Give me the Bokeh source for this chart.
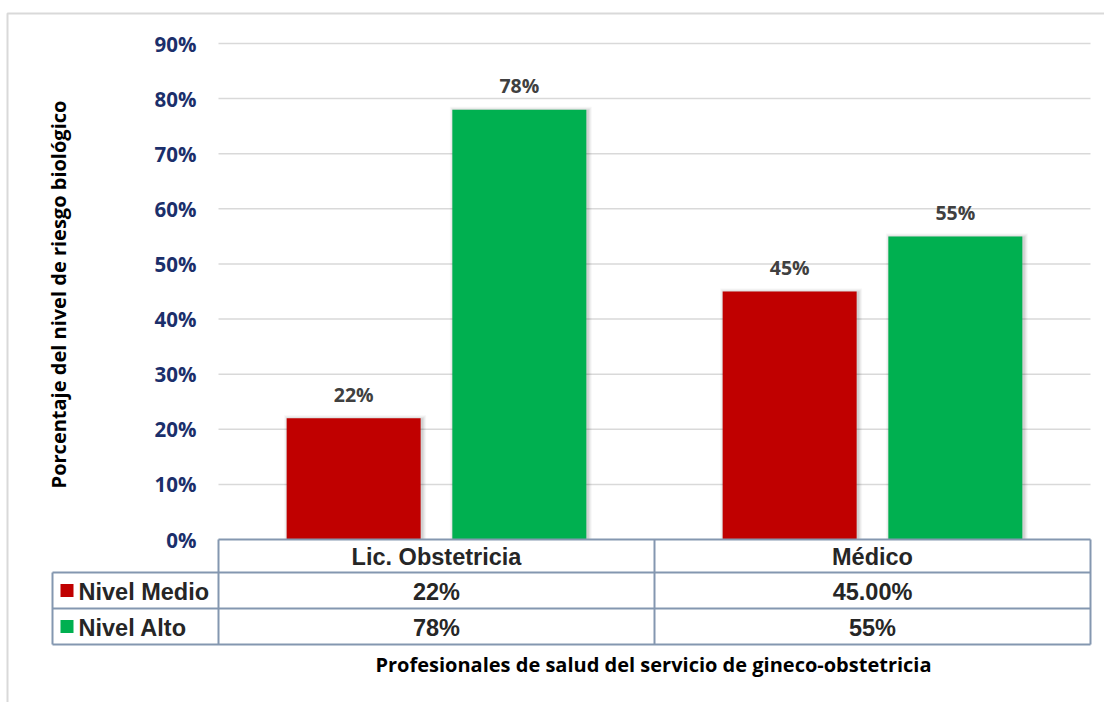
import math
from bokeh.plotting import figure
from bokeh.models import Range1d
from bokeh.core.properties import value
from bokeh.embed import file_html
from bokeh.resources import INLINE

# ---------------- data ----------------
categories = ["Lic. Obstetricia", "Médico"]
series_names = ["Nivel Medio", "Nivel Alto"]
nivel_medio = [22, 45]
nivel_alto = [78, 55]
table_medio = ["22%", "45.00%"]
table_alto = ["78%", "55%"]
y_ticks = [0, 10, 20, 30, 40, 50, 60, 70, 80, 90]
y_tick_labels = ["0%", "10%", "20%", "30%", "40%", "50%", "60%", "70%", "80%", "90%"]
y_title = "Porcentaje del nivel de riesgo biológico"
x_title = "Profesionales de salud del servicio de gineco-obstetricia"

# ---------------- layout ----------------
W, H = 1104, 702
PLOT_L, PLOT_R = 218, 1090
Y0_PX, Y90_PX = 539, 43
PX_PER_UNIT_X = (PLOT_R - PLOT_L) / len(categories)
PX_PER_PCT = (Y0_PX - Y90_PX) / 90.0

def dx(px):
    return (px - PLOT_L) / PX_PER_UNIT_X

def dy(py):
    return (Y0_PX - py) / PX_PER_PCT

RED = "#C00000"
GREEN = "#00B050"
GRID = "#D9D9D9"
TABLE = "#8497B0"
NAVY = "#1B2F6B"
CAL = value("Open Sans")
ARIAL = value("Liberation Sans")

p = figure(width=W, height=H, output_backend="svg", toolbar_location=None,
           x_range=Range1d(dx(0), dx(W)), y_range=Range1d(dy(H), dy(0)),
           min_border=0)
p.axis.visible = False
p.grid.visible = False
p.outline_line_color = None
p.background_fill_color = "white"
p.border_fill_color = "white"

# chart border (frame of the Excel chart)
p.line(x=[dx(W + 5), dx(7), dx(7)], y=[dy(13), dy(13), dy(H + 5)],
       line_color=GRID, line_width=2)

# gridlines
grid_y = [t for t in y_ticks if t > 0]
p.segment(x0=[0] * len(grid_y), x1=[len(categories)] * len(grid_y),
          y0=grid_y, y1=grid_y, line_color=GRID, line_width=1.5)

# y tick labels
p.text(x=[dx(196)] * len(y_ticks), y=y_ticks, text=y_tick_labels,
       text_align="right", text_baseline="middle", text_color=NAVY,
       text_font=CAL, text_font_style="bold", text_font_size="20.5px")

# bars
bar_w = 134 / PX_PER_UNIT_X
offset = 0.19
centers = [i + 0.5 for i in range(len(categories))]
x_medio = [c - offset for c in centers]
x_alto = [c + offset for c in centers]

# soft shadow
for k, a in [(4, 0.03), (3, 0.04), (2, 0.05), (1, 0.06)]:
    for xs, vals in [(x_medio, nivel_medio), (x_alto, nivel_alto)]:
        p.vbar(x=[x + 1.5 / PX_PER_UNIT_X for x in xs],
               width=bar_w + 2 * k / PX_PER_UNIT_X,
               top=[v + (k - 1) / PX_PER_PCT for v in vals], bottom=0,
               fill_color="black", fill_alpha=a, line_color=None)

p.vbar(x=x_medio, top=nivel_medio, bottom=0, width=bar_w,
       fill_color=RED, line_color=None)
p.vbar(x=x_alto, top=nivel_alto, bottom=0, width=bar_w,
       fill_color=GREEN, line_color=None)

# data labels
lab_x = x_medio + x_alto
lab_y = nivel_medio + nivel_alto
p.text(x=lab_x, y=lab_y, text=[f"{v:.0f}%" for v in lab_y],
       text_align="center", text_baseline="middle", y_offset=-24,
       text_color="#404040", text_font=CAL, text_font_style="bold",
       text_font_size="19.5px")

# data table
row_top = [Y0_PX, 572, 608, 644]
tbl_lines_x0, tbl_lines_x1, tbl_lines_y0, tbl_lines_y1 = [], [], [], []
tbl_lines_x0 += [dx(PLOT_L), dx(52), dx(52), dx(52)]
tbl_lines_x1 += [dx(PLOT_R)] * 4
tbl_lines_y0 += [dy(r) for r in row_top]
tbl_lines_y1 += [dy(r) for r in row_top]
for xp, ytop in [(52, 572), (PLOT_L, Y0_PX), (654, Y0_PX), (PLOT_R, Y0_PX)]:
    tbl_lines_x0.append(dx(xp)); tbl_lines_x1.append(dx(xp))
    tbl_lines_y0.append(dy(ytop)); tbl_lines_y1.append(dy(644))
p.segment(x0=tbl_lines_x0, x1=tbl_lines_x1, y0=tbl_lines_y0, y1=tbl_lines_y1,
          line_color=TABLE, line_width=2)

row_mid = [(row_top[i] + row_top[i + 1]) / 2 for i in range(3)]
TFS = "23.5px"
p.text(x=centers, y=[dy(row_mid[0] + 1)] * 2, text=categories,
       text_align="center", text_baseline="middle", text_color="#262626",
       text_font=ARIAL, text_font_style="bold", text_font_size=TFS)
p.text(x=centers, y=[dy(row_mid[1] + 1)] * 2, text=table_medio,
       text_align="center", text_baseline="middle", text_color="#262626",
       text_font=ARIAL, text_font_style="bold", text_font_size=TFS)
p.text(x=centers, y=[dy(row_mid[2] + 1)] * 2, text=table_alto,
       text_align="center", text_baseline="middle", text_color="#262626",
       text_font=ARIAL, text_font_style="bold", text_font_size=TFS)

# legend keys in table
p.rect(x=[dx(66.5)] * 2, y=[dy(row_mid[1]), dy(row_mid[2])],
       width=13 / PX_PER_UNIT_X, height=13 / PX_PER_PCT,
       fill_color=[RED, GREEN], line_color=None)
p.text(x=[dx(78)] * 2, y=[dy(row_mid[1] + 1), dy(row_mid[2] + 1)],
       text=series_names, text_align="left", text_baseline="middle",
       text_color="#262626", text_font=ARIAL, text_font_style="bold",
       text_font_size=TFS)

# axis titles
p.text(x=[dx(58)], y=[dy(294)], text=[y_title], angle=math.pi / 2,
       text_align="center", text_baseline="middle", text_color="black",
       text_font=CAL, text_font_style="bold", text_font_size="20px")
p.text(x=[dx(653)], y=[dy(664)], text=[x_title], text_align="center",
       text_baseline="middle", text_color="black", text_font=CAL,
       text_font_style="bold", text_font_size="20px")

open("out.html", "w").write(file_html(p, INLINE))
